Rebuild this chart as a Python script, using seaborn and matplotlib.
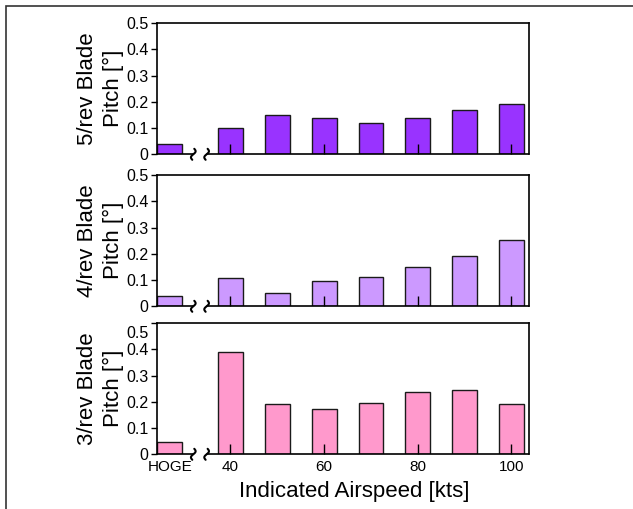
import numpy as np
import pandas as pd
import matplotlib
matplotlib.use("Agg")
import matplotlib.pyplot as plt
import seaborn as sns
from matplotlib.patches import Rectangle
from matplotlib.transforms import blended_transform_factory, ScaledTranslation

# ---- data ----
conditions = ["HOGE", "40", "50", "60", "70", "80", "90", "100"]
positions = [27, 40, 50, 60, 70, 80, 90, 100]
pitch_5rev = [0.039, 0.099, 0.149, 0.137, 0.121, 0.140, 0.170, 0.191]
pitch_4rev = [0.039, 0.108, 0.051, 0.098, 0.111, 0.149, 0.192, 0.254]
pitch_3rev = [0.046, 0.390, 0.191, 0.174, 0.196, 0.237, 0.243, 0.193]
xtick_values = [40, 60, 80, 100]
xtick_labels = ["40", "60", "80", "100"]
ytick_values = [0, 0.1, 0.2, 0.3, 0.4, 0.5]
ytick_labels = ["0", "0.1", "0.2", "0.3", "0.4", "0.5"]
ylabels = ["5/rev Blade\nPitch [°]", "4/rev Blade\nPitch [°]", "3/rev Blade\nPitch [°]"]
colors = ["#9933FF", "#CC99FF", "#FF99CC"]
series = [pitch_5rev, pitch_4rev, pitch_3rev]

sns.set_style("ticks")
plt.rcParams["font.family"] = ["Liberation Sans", "DejaVu Sans"]
plt.rcParams["text.color"] = "black"
plt.rcParams["axes.labelcolor"] = "black"
plt.rcParams["xtick.color"] = "black"
plt.rcParams["ytick.color"] = "black"

W, H = 633, 509
fig = plt.figure(figsize=(W / 100, H / 100), dpi=100)
fig.patch.set_facecolor("white")

# figure border
fig.patches.append(Rectangle((5.5 / W, -0.02), 1.1, 1 - 6.5 / H + 0.02,
                             transform=fig.transFigure, fill=False,
                             edgecolor="#333333", linewidth=1.2))

ax_left, ax_w, ax_h = 157, 371.7, 131.3
tops = [23, 175, 323]
xlim = (24.3, 103.7)
break_a, break_b = 32.05, 34.9

for i, (lab, vals, col, top) in enumerate(zip(ylabels, series, colors, tops)):
    ax = fig.add_axes([ax_left / W, 1 - (top + ax_h) / H, ax_w / W, ax_h / H])
    df = pd.DataFrame({"speed": positions, "pitch": vals})
    sns.barplot(data=df, x="speed", y="pitch", native_scale=True, orient="x",
                width=0.53, color=col, saturation=1, edgecolor="#1a1a1a",
                linewidth=1, errorbar=None, ax=ax)
    ax.set_axisbelow(False)
    ax.set_xlim(*xlim)
    ax.set_ylim(0, 0.5)
    ax.set_xticks(xtick_values, labels=xtick_labels)
    ax.set_xticks([positions[0]], labels=[conditions[0]], minor=True)
    ax.tick_params(axis="x", which="major", direction="in", length=7.5,
                   width=1, labelsize=11, pad=4, top=False)
    ax.tick_params(axis="x", which="minor", length=0, labelsize=11, pad=4)
    if i < 2:
        ax.tick_params(axis="x", which="both", labelbottom=False)
    ax.set_yticks(ytick_values, labels=ytick_labels)
    ax.tick_params(axis="y", direction="out", length=4, width=1,
                   labelsize=11.5, pad=2, right=False)
    ax.set_ylabel(lab, fontsize=16, linespacing=1.3, labelpad=2)
    ax.set_xlabel("")
    for s in ["top", "left", "right"]:
        ax.spines[s].set_visible(True)
        ax.spines[s].set_linewidth(1.2)
        ax.spines[s].set_color("black")
    ax.spines["bottom"].set_visible(False)
    # broken bottom axis
    tr = blended_transform_factory(ax.transData, ax.transAxes)
    ax.plot([xlim[0], break_a], [0, 0], color="black", lw=1.2,
            transform=tr, clip_on=False, zorder=3)
    ax.plot([break_b, xlim[1]], [0, 0], color="black", lw=1.2,
            transform=tr, clip_on=False, zorder=3)
    t = np.linspace(-1, 1, 30)
    for xb in (break_a, break_b):
        x0 = (xb - xlim[0]) / (xlim[1] - xlim[0])
        xs = x0 + (1.8 * np.sin(np.pi * t) + 1.0 * t) / ax_w
        ys = (5.5 * t) / ax_h
        ax.plot(xs, ys, color="black", lw=1.5, transform=ax.transAxes,
                clip_on=False, zorder=3)
    if i == 2:
        ax.set_xlabel("Indicated Airspeed [kts]", fontsize=16, x=0.53,
                      labelpad=5)
        # the "0.5" label in this panel sits a bit lower in the reference
        lbl = ax.get_yticklabels()[-1]
        lbl.set_transform(lbl.get_transform() +
                          ScaledTranslation(0, -9 / 100, fig.dpi_scale_trans))

fig.savefig("out.png", dpi=100, facecolor="white")
